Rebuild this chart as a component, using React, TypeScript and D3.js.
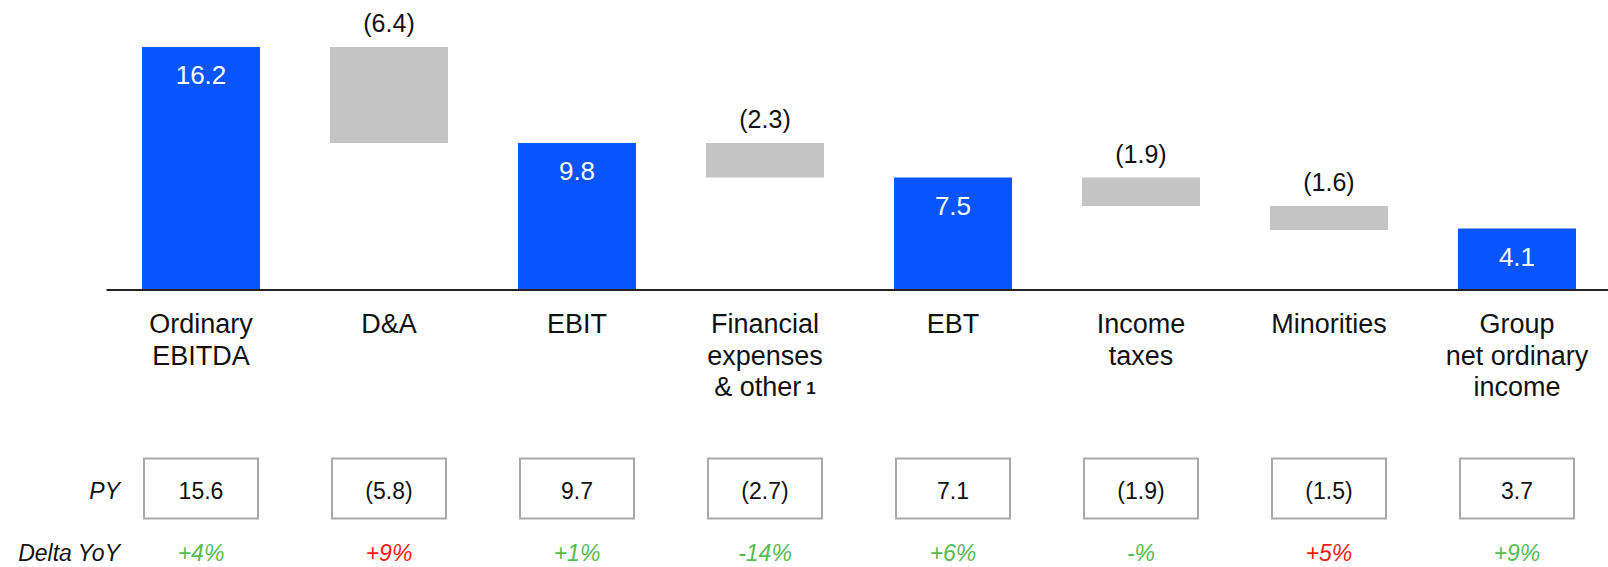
import React from "react";
import * as d3 from "d3";

const categories = ["Ordinary EBITDA", "D&A", "EBIT", "Financial expenses & other", "EBT", "Income taxes", "Minorities", "Group net ordinary income"];
const categoryLines = [
  ["Ordinary", "EBITDA"],
  ["D&A"],
  ["EBIT"],
  ["Financial", "expenses", "& other"],
  ["EBT"],
  ["Income", "taxes"],
  ["Minorities"],
  ["Group", "net ordinary", "income"],
];
const footnotes = ["", "", "", "1", "", "", "", ""];
const values = [16.2, -6.4, 9.8, -2.3, 7.5, -1.9, -1.6, 4.1];
const isTotal = [true, false, true, false, true, false, false, true];
const valueLabels = ["16.2", "(6.4)", "9.8", "(2.3)", "7.5", "(1.9)", "(1.6)", "4.1"];
const pyLabels = ["15.6", "(5.8)", "9.7", "(2.7)", "7.1", "(1.9)", "(1.5)", "3.7"];
const deltaLabels = ["+4%", "+9%", "+1%", "-14%", "+6%", "-%", "+5%", "+9%"];
const deltaPositive = [true, false, true, true, true, true, false, true];

const W = 1608;
const H = 567;
const FONT = "'Liberation Sans', Arial, Helvetica, sans-serif";
const BLUE = "#0855fd";
const GREY = "#c4c4c4";
const GREEN = "#55bb55";
const RED = "#f21a12";

export default function App() {
  const x = d3.scaleBand<string>().domain(categories).range([142, 1576]).paddingInner(0.3723).paddingOuter(0);
  const y = d3.scaleLinear().domain([0, 16.2]).range([290, 47]);

  let running = 0;
  const bars = values.map((v, i) => {
    let y0: number, y1: number;
    if (isTotal[i]) {
      y0 = 0;
      y1 = v;
      running = v;
    } else {
      y0 = running + v;
      y1 = running;
      running = running + v;
    }
    return { cat: categories[i], lo: Math.min(y0, y1), hi: Math.max(y0, y1), total: isTotal[i], label: valueLabels[i] };
  });

  const bw = x.bandwidth();
  const boxW = 114;

  return (
    <svg width={W} height={H} style={{ position: "absolute", left: 0, top: 0, background: "#fff" }} fontFamily={FONT}>
      {bars.map((b, i) => {
        const bx = x(b.cat)!;
        const cx = bx + bw / 2;
        return (
          <g key={i}>
            <rect x={bx} y={y(b.hi)} width={bw} height={y(b.lo) - y(b.hi)} fill={b.total ? BLUE : GREY} />
            {b.total ? (
              <text x={cx} y={y(b.hi) + 37} textAnchor="middle" fill="#fff" fontSize={26}>{b.label}</text>
            ) : (
              <text x={cx} y={y(b.hi) - 15} textAnchor="middle" fill="#111" fontSize={25}>{b.label}</text>
            )}
          </g>
        );
      })}
      <line x1={106.5} x2={W} y1={y(0)} y2={y(0)} stroke="#222" strokeWidth={2} />
      {categories.map((c, i) => {
        const cx = x(c)! + bw / 2;
        const lines = categoryLines[i];
        return (
          <text key={c} x={cx} textAnchor="middle" fontSize={27} fill="#111">
            {lines.map((l, j) => (
              <tspan key={j} x={cx} y={333 + j * 31.7}>
                {l}
                {j === lines.length - 1 && footnotes[i] ? (
                  <tspan fontSize={17} fontWeight="bold" dx={5} dy={-2}>{footnotes[i]}</tspan>
                ) : null}
              </tspan>
            ))}
          </text>
        );
      })}
      <text x={120} y={499} textAnchor="end" fontSize={23} fontStyle="italic" fill="#111">PY</text>
      <text x={120} y={561} textAnchor="end" fontSize={23} fontStyle="italic" fill="#111">Delta YoY</text>
      {categories.map((c, i) => {
        const cx = x(c)! + bw / 2;
        return (
          <g key={"py" + i}>
            <rect x={cx - boxW / 2} y={458.5} width={boxW} height={60} fill="#fff" stroke="#aaa" strokeWidth={2} />
            <text x={cx} y={499} textAnchor="middle" fontSize={23} fill="#111">{pyLabels[i]}</text>
            <text x={cx} y={561} textAnchor="middle" fontSize={23} fontStyle="italic" fill={deltaPositive[i] ? GREEN : RED}>{deltaLabels[i]}</text>
          </g>
        );
      })}
    </svg>
  );
}
